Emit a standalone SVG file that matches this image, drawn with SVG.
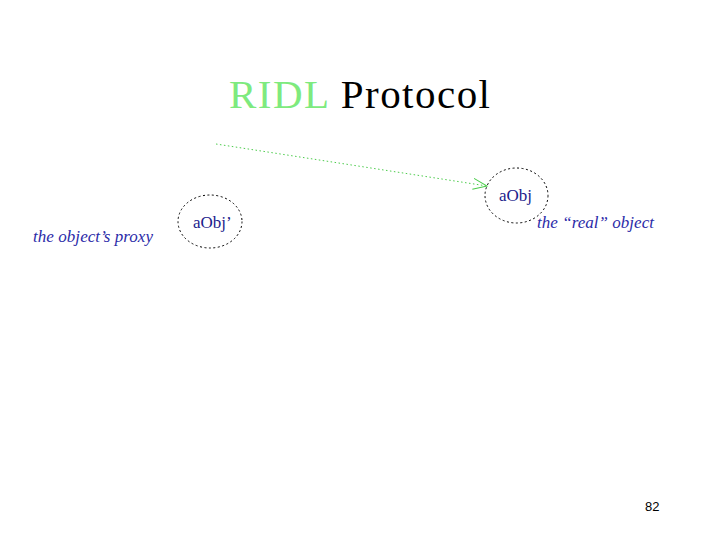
<svg xmlns="http://www.w3.org/2000/svg" width="720" height="540" viewBox="0 0 720 540">
<style>
.serif{font-family:"Liberation Serif","Times New Roman",serif}
.node{fill:none;stroke:#000;stroke-width:1;stroke-dasharray:2 2.5}
.ntext{font-size:17px;fill:#1c1c8c}
.lbl{font-style:italic;font-size:17px;fill:#2b2ba8}
.conn{fill:none;stroke:#4ccc4c;stroke-width:1;stroke-dasharray:1.5 2.5}
</style>
<defs>
<marker id="open" markerWidth="16" markerHeight="12" refX="14" refY="6" orient="auto" markerUnits="userSpaceOnUse">
<path d="M0,0.5 L14,6 L0,11.5" fill="none" stroke="#4ccc4c" stroke-width="1"/>
</marker>
</defs>
<rect width="720" height="540" fill="#fff"/>
<text class="serif" x="229" y="108" font-size="41" textLength="261"><tspan fill="#7eea7e">RIDL</tspan><tspan fill="#000"> Protocol</tspan></text>
<g id="connectors">
<path class="conn" d="M216,144 L487,186" marker-end="url(#open)"/>
</g>
<g id="proxy">
<ellipse class="node" cx="210" cy="221.5" rx="32" ry="26.5"/>
<text class="serif ntext" x="193" y="228">aObj’</text>
</g>
<g id="real">
<ellipse class="node" cx="516.5" cy="195.5" rx="31.5" ry="27.5"/>
<text class="serif ntext" x="499" y="201">aObj</text>
</g>
<text class="serif lbl" x="33" y="242" textLength="120">the object’s proxy</text>
<text class="serif lbl" x="537" y="228" textLength="117">the “real” object</text>
<text x="645" y="511" font-family="'Liberation Sans',Arial,sans-serif" font-size="13" fill="#000">82</text>
</svg>
